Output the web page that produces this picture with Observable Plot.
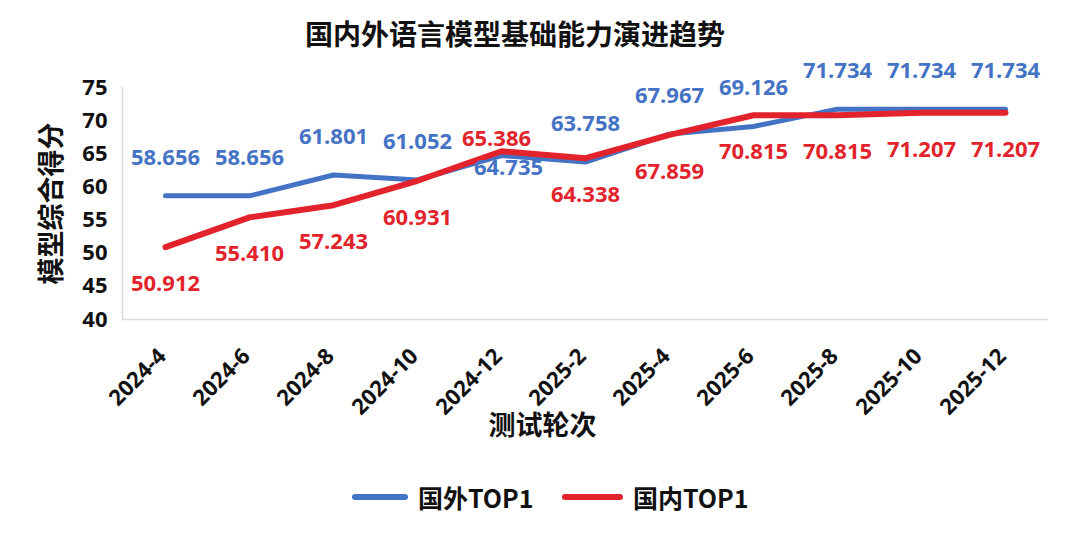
<!DOCTYPE html>
<html>
<head>
<meta charset="utf-8">
<script src="https://cdn.jsdelivr.net/npm/d3@7"></script>
<script src="https://cdn.jsdelivr.net/npm/@observablehq/plot@0.6"></script>
<style>
  html, body { margin: 0; padding: 0; background: #fff; }
  body { width: 1080px; height: 533px; overflow: hidden; font-family: "Open Sans", "Noto Sans CJK SC", sans-serif; }
  #title { height: 60px; line-height: 66px; text-align: center; font-size: 28px; font-weight: 700; color: #111; padding-right: 50px; box-sizing: border-box;
           font-family: "Noto Sans CJK SC", sans-serif; }
  #legend { position: absolute; top: 480px; left: 0; width: 1080px; height: 34px; }
  .lg { position: absolute; top: 0; height: 34px; display: flex; align-items: center; font-size: 25px; font-weight: 700; color: #111; font-family: "Noto Sans CJK SC", sans-serif; }
  .sw { display: inline-block; height: 6px; border-radius: 3px; margin-right: 10px; }
</style>
</head>
<body>
<div id="title"></div>
<div id="chart"></div>
<div id="legend"></div>
<script>
const rounds = ["2024-4","2024-6","2024-8","2024-10","2024-12","2025-2","2025-4","2025-6","2025-8","2025-10","2025-12"];
const foreign = [58.656, 58.656, 61.801, 61.052, 64.735, 63.758, 67.967, 69.126, 71.734, 71.734, 71.734];
const domestic = [50.912, 55.410, 57.243, 60.931, 65.386, 64.338, 67.859, 70.815, 70.815, 71.207, 71.207];
const seriesNames = ["国外TOP1", "国内TOP1"];
const yTicks = [40, 45, 50, 55, 60, 65, 70, 75];
const titleText = "国内外语言模型基础能力演进趋势";
const xLabel = "测试轮次";
const yLabel = "模型综合得分";

const colors = {"国外TOP1": "#4472C4", "国内TOP1": "#E3232B"};
// label placement: foreign above, domestic below, with hand nudges where they cross
const baseDy = {"国外TOP1": -38, "国内TOP1": 37};
const nudgeDy = {"国外TOP1|2024-12": 12, "国内TOP1|2024-12": -12};
const nudgeDx = {"国外TOP1|2024-12": 7, "国内TOP1|2024-12": -5};

const rows = [];
rounds.forEach((r, i) => {
  rows.push({round: r, series: seriesNames[0], value: foreign[i]});
  rows.push({round: r, series: seriesNames[1], value: domestic[i]});
});
rows.forEach(d => {
  const k = d.series + "|" + d.round;
  d.dy = nudgeDy[k] ?? baseDy[d.series];
  d.dx = nudgeDx[k] ?? 0;
});

document.getElementById("title").textContent = titleText;

const labelMarks = rows.map(d => Plot.text([d], {
  x: "round", y: "value", text: v => v.value.toFixed(3), dy: d.dy, dx: d.dx,
  fill: colors[d.series], fontSize: 22, fontWeight: 700,
  fontFamily: "Open Sans, sans-serif"
}));

const chart = Plot.plot({
  width: 1080,
  height: 410,
  marginTop: 27,
  marginBottom: 151,
  marginLeft: 122,
  marginRight: 32,
  style: {background: "#fff", color: "#111", fontFamily: "Open Sans, Noto Sans CJK SC, sans-serif", overflow: "visible"},
  x: {type: "point", domain: rounds, padding: 0.51, label: null, axis: null},
  y: {domain: [40, 75], label: null},
  marks: [
    Plot.frame({anchor: "left", stroke: "#d9d9d9", strokeWidth: 1.5}),
    Plot.ruleY([40], {stroke: "#d9d9d9", strokeWidth: 1.5}),
    Plot.axisY({ticks: yTicks, tickSize: 0, tickPadding: 15, fontSize: 22, fontWeight: 700, label: null}),
    Plot.text(rounds, {x: d => d, frameAnchor: "bottom", dy: 38, dx: 2, rotate: -45, textAnchor: "end",
      fontSize: 22, fontWeight: 700, fill: "#111", fontFamily: "Open Sans, sans-serif"}),
    Plot.line(rows.filter(d => d.series === seriesNames[0]), {x: "round", y: "value", stroke: colors[seriesNames[0]], strokeWidth: 5}),
    Plot.line(rows.filter(d => d.series === seriesNames[1]), {x: "round", y: "value", stroke: colors[seriesNames[1]], strokeWidth: 6}),
    ...labelMarks,
    Plot.text([xLabel], {frameAnchor: "bottom", dy: 115, dx: -43, fontSize: 27, fontWeight: 700, fill: "#111", fontFamily: "Noto Sans CJK SC, sans-serif"}),
    Plot.text([yLabel], {frameAnchor: "left", textAnchor: "middle", dx: -70, rotate: -90, fontSize: 27, fontWeight: 700, fill: "#111", fontFamily: "Noto Sans CJK SC, sans-serif"})
  ]
});
document.getElementById("chart").appendChild(chart);

const legend = document.getElementById("legend");
const legendPos = [{left: 352, w: 56}, {left: 562, w: 61}];
seriesNames.forEach((s, i) => {
  const item = document.createElement("div");
  item.className = "lg";
  item.style.left = legendPos[i].left + "px";
  const sw = document.createElement("span");
  sw.className = "sw";
  sw.style.width = legendPos[i].w + "px";
  sw.style.background = colors[s];
  const t = document.createElement("span");
  t.textContent = s;
  item.appendChild(sw);
  item.appendChild(t);
  legend.appendChild(item);
});
</script>
</body>
</html>
